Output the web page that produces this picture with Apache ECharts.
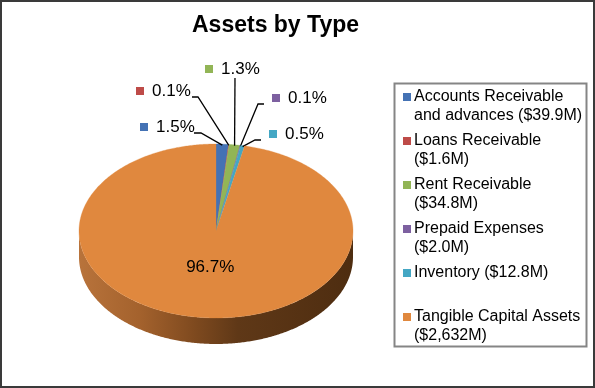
<!DOCTYPE html>
<html><head><meta charset="utf-8">
<script src="https://cdn.jsdelivr.net/npm/echarts@6/dist/echarts.min.js"></script>
<style>html,body{margin:0;padding:0;background:#fff}#c{width:595px;height:388px}</style>
</head><body><div id="c"></div>
<script>
// ---- data ----
const categories = ['Accounts Receivable and advances', 'Loans Receivable', 'Rent Receivable', 'Prepaid Expenses', 'Inventory', 'Tangible Capital Assets'];
const values = [39.9, 1.6, 34.8, 2.0, 12.8, 2632];
const legendLines = [
  ['Accounts Receivable', 'and advances ($39.9M)'],
  ['Loans Receivable', '($1.6M)'],
  ['Rent Receivable', '($34.8M)'],
  ['Prepaid Expenses', '($2.0M)'],
  ['Inventory ($12.8M)'],
  ['Tangible Capital Assets', '($2,632M)']
];
const titleText = 'Assets by Type';

// ---- style / layout ----
const colors = ['#4472b4', '#be4b48', '#92b556', '#7d60a0', '#44a7c4', '#e0883e'];
const PIE = { cx: 216, cy: 231, rx: 137, ry: 87, depth: 26 };
const FONT = '"Liberation Sans", Arial, sans-serif';
// label anchors: text left x, text middle y, leader points on label side (then to slice)
const labelLayout = [
  { tx: 156, ty: 127, line: [[194, 133], [201, 133]] },
  { tx: 152, ty: 91,  line: [[192, 97], [198, 97]] },
  { tx: 221, ty: 69,  line: [[235, 78]], vertical: true },
  { tx: 288, ty: 98,  line: [[264, 104], [258, 104]] },
  { tx: 285, ty: 134, line: [[261, 140], [255, 140]] },
  null
];

const total = values.reduce((a, b) => a + b, 0);
const pct = v => (v / total * 100).toFixed(1) + '%';

function pt(a, dy) {
  return [PIE.cx + PIE.rx * Math.sin(a), PIE.cy - PIE.ry * Math.cos(a) + (dy || 0)];
}
function arc(a0, a1, dy) {
  const pts = [];
  const n = Math.max(2, Math.ceil((a1 - a0) / 0.01));
  for (let s = 0; s <= n; s++) pts.push(pt(a0 + (a1 - a0) * s / n, dy));
  return pts;
}

function renderSlice(params, api) {
  const i = params.dataIndex;
  const v = api.value(0);
  let before = 0;
  for (let k = 0; k < i; k++) before += values[k];
  const a0 = before / total * Math.PI * 2;
  const a1 = (before + v) / total * Math.PI * 2;
  const children = [];
  // side wall (front half only)
  const s0 = Math.max(a0, Math.PI / 2), s1 = Math.min(a1, Math.PI * 1.5);
  if (s1 > s0) {
    const up = arc(s0, s1, 0);
    const low = arc(s0, s1, PIE.depth).reverse();
    children.push({
      type: 'polygon', shape: { points: up.concat(low) },
      style: {
        fill: new echarts.graphic.LinearGradient(0, 0, 1, 0, [
          { offset: 0, color: '#b8733b' },
          { offset: 0.22, color: '#a4622d' },
          { offset: 0.42, color: '#7f4a1f' },
          { offset: 0.58, color: '#5f3817' },
          { offset: 1, color: '#4e2d10' }
        ])
      }
    });
  }
  // top face
  const top = [[PIE.cx, PIE.cy]].concat(arc(a0, a1, 0));
  children.push({ type: 'polygon', shape: { points: top }, style: { fill: colors[i], stroke: colors[i], lineWidth: 0.3 } });

  const mid = (a0 + a1) / 2;
  const L = labelLayout[i];
  if (L) {
    const edge = pt(mid, 1);
    children.push({ type: 'polyline', shape: { points: L.line.concat([edge]) }, style: { stroke: '#000', lineWidth: 1.3, fill: null } });
    children.push({ type: 'rect', shape: { x: L.tx - 16, y: L.ty - 4, width: 8, height: 8 }, style: { fill: colors[i] } });
    children.push({ type: 'text', style: { text: pct(v), x: L.tx, y: L.ty, font: '17px ' + FONT, fill: '#000', align: 'left', verticalAlign: 'middle' } });
  } else {
    const r = 0.4;
    const x = PIE.cx + PIE.rx * r * Math.sin(mid);
    const y = PIE.cy - PIE.ry * r * Math.cos(mid) + 2;
    children.push({ type: 'text', z2: 10, style: { text: pct(v), x: x, y: y, font: '17px ' + FONT, fill: '#000', align: 'center', verticalAlign: 'middle' } });
  }
  return { type: 'group', children: children };
}

// legend built from arrays
const legendGraphics = [
  { type: 'rect', shape: { x: 394.5, y: 83.5, width: 192, height: 263 }, style: { fill: '#fff', stroke: '#858585', lineWidth: 2 } }
];
legendLines.forEach((lines, i) => {
  const y0 = 97 + i * 44;
  legendGraphics.push({ type: 'rect', shape: { x: 403, y: y0 - 4, width: 8, height: 8 }, style: { fill: colors[i] } });
  lines.forEach((t, j) => {
    legendGraphics.push({ type: 'text', style: { text: t, x: 414, y: y0 + j * 18.5, font: '16px ' + FONT, fill: '#000', align: 'left', verticalAlign: 'middle' } });
  });
});

const chart = echarts.init(document.getElementById('c'), null, { renderer: 'canvas' });
chart.setOption({
  animation: false,
  backgroundColor: '#fff',
  graphic: [
    { type: 'rect', shape: { x: 1, y: 1, width: 593, height: 386 }, style: { fill: null, stroke: '#3a3a3a', lineWidth: 2 }, z: 100 },
    { type: 'text', style: { text: titleText, x: 275.5, y: 26, font: 'bold 23px ' + FONT, fill: '#000', align: 'center', verticalAlign: 'middle' } },
    { type: 'group', children: legendGraphics }
  ],
  series: [{
    type: 'custom',
    coordinateSystem: 'none',
    renderItem: renderSlice,
    data: values.map((v, i) => ({ name: categories[i], value: [v] }))
  }]
});
</script>
</body></html>
